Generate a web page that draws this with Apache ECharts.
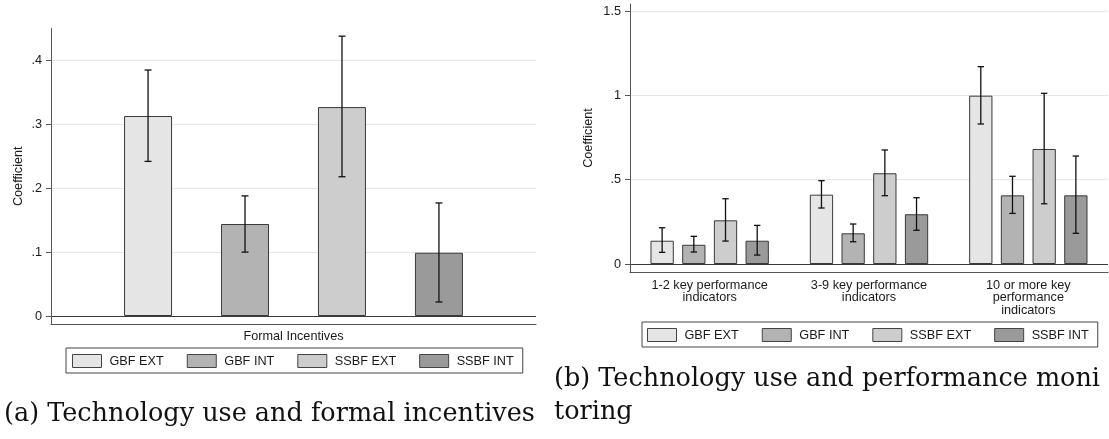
<!DOCTYPE html>
<html>
<head>
<meta charset="utf-8">
<script src="https://cdn.jsdelivr.net/npm/echarts@6/dist/echarts.min.js"></script>
<style>
html,body{margin:0;padding:0;background:#fff;}
#c{width:1109px;height:439px;}
</style>
</head>
<body>
<div id="c"></div>
<script>
// ---------- data ----------
const seriesNames = ['GBF EXT', 'GBF INT', 'SSBF EXT', 'SSBF INT'];

// Panel (a)
const categoriesA = ['Formal Incentives'];
const coefA = [[0.313], [0.144], [0.327], [0.099]];
const lowA  = [[0.242], [0.100], [0.218], [0.022]];
const highA = [[0.385], [0.188], [0.438], [0.177]];
const ticksA = [0, 0.1, 0.2, 0.3, 0.4];
const tickLabelsA = ['0', '.1', '.2', '.3', '.4'];

// Panel (b)
const categoriesB = ['1-2 key performance\nindicators', '3-9 key performance\nindicators', '10 or more key\nperformance\nindicators'];
const coefB = [
  [0.138, 0.411, 0.998],
  [0.114, 0.182, 0.407],
  [0.259, 0.538, 0.682],
  [0.138, 0.295, 0.407]
];
const lowB = [
  [0.069, 0.332, 0.830],
  [0.071, 0.132, 0.300],
  [0.136, 0.405, 0.357],
  [0.053, 0.200, 0.182]
];
const highB = [
  [0.215, 0.494, 1.170],
  [0.164, 0.237, 0.520],
  [0.387, 0.676, 1.012],
  [0.229, 0.393, 0.640]
];
const ticksB = [0, 0.5, 1, 1.5];
const tickLabelsB = ['0', '.5', '1', '1.5'];

const captionA = '(a) Technology use and formal incentives';
const captionB1 = '(b) Technology use and performance moni';
const captionB2 = 'toring';

// ---------- styles ----------
const fills = ['#e5e5e5', '#b3b3b3', '#cdcdcd', '#9a9a9a'];
const FONT = 'Liberation Sans, Arial, sans-serif';
const FS = 12.7;
const TXT = '#1a1a1a';
const CAPFONT = '25.5px "DejaVu Serif", serif';

const panels = [
  {barW: 48, gap: 1.02, cap: 3.5},
  {barW: 23.3, gap: 0.36, cap: 3.2}
];

function fmtLabel(ticks, labels) {
  return function (v) {
    for (let i = 0; i < ticks.length; i++) if (Math.abs(ticks[i] - v) < 1e-9) return labels[i];
    return '';
  };
}

function errRender(idx, p) {
  return function (params, api) {
    const xv = api.value(0);
    const a = api.coord([xv, api.value(1)]);
    const b = api.coord([xv, api.value(2)]);
    const x = a[0] + (idx - 1.5) * p.barW * (1 + p.gap);
    const st = {stroke: '#111', lineWidth: 1.3};
    return {type: 'group', children: [
      {type: 'line', shape: {x1: x, y1: a[1], x2: x, y2: b[1]}, style: st},
      {type: 'line', shape: {x1: x - p.cap, y1: a[1], x2: x + p.cap, y2: a[1]}, style: st},
      {type: 'line', shape: {x1: x - p.cap, y1: b[1], x2: x + p.cap, y2: b[1]}, style: st}
    ]};
  };
}

const series = [];
[[coefA, lowA, highA], [coefB, lowB, highB]].forEach(function (set, g) {
  const p = panels[g];
  seriesNames.forEach(function (nm, i) {
    series.push({
      type: 'bar', name: nm, xAxisIndex: g, yAxisIndex: g,
      data: set[0][i],
      barWidth: p.barW, barGap: (p.gap * 100) + '%',
      itemStyle: {color: fills[i], borderColor: '#3a3a3a', borderWidth: 1},
      emphasis: {disabled: true},
      z: 2
    });
  });
  seriesNames.forEach(function (nm, i) {
    series.push({
      type: 'custom', name: nm + ' CI', xAxisIndex: g, yAxisIndex: g,
      data: set[1][i].map(function (lo, k) { return [k, lo, set[2][i][k]]; }),
      encode: {x: 0, y: [1, 2]},
      renderItem: errRender(i, p),
      z: 5, silent: true
    });
  });
});

function yAxisCfg(gi, min, max, ticks, labels, nameGap) {
  return {
    type: 'value', gridIndex: gi, min: min, max: max,
    name: 'Coefficient', nameLocation: 'middle', nameGap: nameGap,
    nameTextStyle: {fontFamily: FONT, fontSize: FS, color: TXT},
    axisLine: {show: true, lineStyle: {color: '#555', width: 1}},
    axisTick: {show: true, length: 5, customValues: ticks, lineStyle: {color: '#555'}},
    axisLabel: {customValues: ticks, formatter: fmtLabel(ticks, labels), margin: 9,
      fontFamily: FONT, fontSize: FS, color: TXT},
    splitLine: {show: true, lineStyle: {color: ['#3a3a3a', '#e6e6e6', '#e6e6e6', '#e6e6e6', '#e6e6e6'], width: 1}}
  };
}

function legendCfg(left, top, pad) {
  return {
    left: left, top: top, orient: 'horizontal',
    data: seriesNames,
    itemWidth: 29, itemHeight: 13, itemGap: 23,
    padding: pad,
    borderColor: '#444', borderWidth: 1,
    icon: 'rect',
    itemStyle: {borderColor: '#444', borderWidth: 1},
    textStyle: {fontFamily: FONT, fontSize: FS, color: TXT, padding: [0, 0, 0, 3]},
    selectedMode: false
  };
}

const option = {
  animation: false,
  backgroundColor: '#fff',
  grid: [
    {left: 51, top: 28.5, width: 485, height: 295.5, containLabel: false},
    {left: 630, top: 4, width: 478, height: 268, containLabel: false}
  ],
  xAxis: [
    {type: 'category', gridIndex: 0, data: categoriesA,
      axisLine: {onZero: false, lineStyle: {color: '#555'}}, axisTick: {show: false},
      axisLabel: {margin: 6, fontFamily: FONT, fontSize: FS, color: TXT}},
    {type: 'category', gridIndex: 1, data: categoriesB,
      axisLine: {onZero: false, lineStyle: {color: '#555'}}, axisTick: {show: false},
      axisLabel: {margin: 7, fontFamily: FONT, fontSize: FS, color: TXT, lineHeight: 12.5, interval: 0}}
  ],
  yAxis: [
    yAxisCfg(0, -0.0125, 0.45, ticksA, tickLabelsA, 26),
    yAxisCfg(1, -0.0474, 1.5415, ticksB, tickLabelsB, 35)
  ],
  legend: [legendCfg(66, 348, [6, 9, 5, 6]), legendCfg(642, 322, [6, 9, 5, 5])],
  series: series,
  graphic: [
    {type: 'text', left: 4, top: 401, style: {text: captionA, font: CAPFONT, fill: '#111'}},
    {type: 'text', left: 554, top: 366, style: {text: captionB1, font: CAPFONT, fill: '#111'}},
    {type: 'text', left: 554, top: 399, style: {text: captionB2, font: CAPFONT, fill: '#111'}}
  ]
};

const chart = echarts.init(document.getElementById('c'), null, {renderer: 'canvas'});
chart.setOption(option);
</script>
</body>
</html>
